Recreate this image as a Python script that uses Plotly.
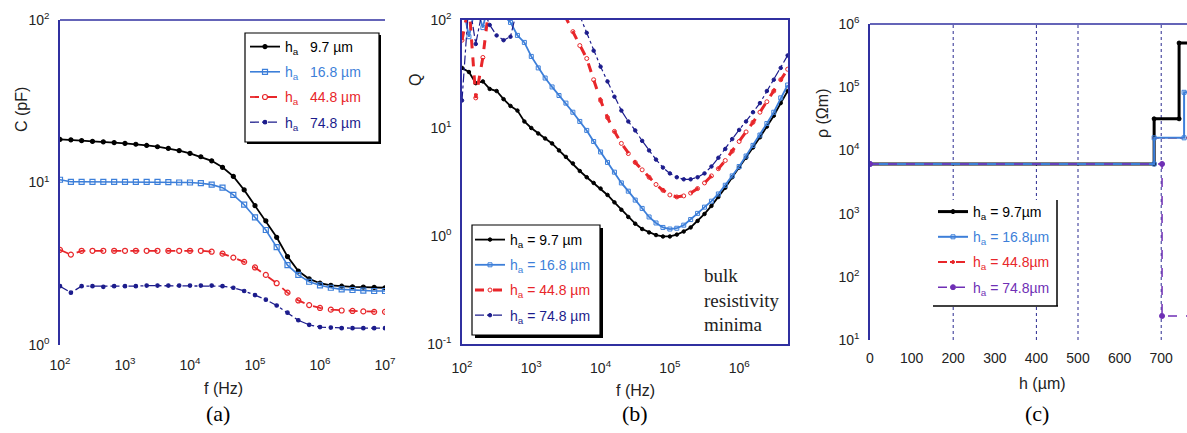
import numpy as np
import plotly.graph_objects as go

W, H = 1187, 433

# ---------------- data (a) : C (pF) vs f (Hz) ----------------
f_a = [100, 147, 215, 316, 464, 681, 1000, 1468, 2154, 3162, 4642, 6813, 10000, 14678,
       21544, 31623, 46416, 68129, 100000, 146780, 215443, 316228, 464159, 681292,
       1000000, 1467799, 2154435, 3162278, 4641589, 6812921, 10000000]
C_97 = [18.4, 18.3, 18.1, 17.9, 17.8, 17.6, 17.4, 17.2, 16.9, 16.6, 16.2, 15.7, 15.1, 14.4,
        13.6, 12.4, 10.9, 9.0, 7.2, 5.8, 4.6, 3.5, 2.85, 2.55, 2.4, 2.33, 2.3, 2.28, 2.27, 2.26, 2.25]
C_168 = [10.4, 10.1, 10.1, 10.1, 10.1, 10.1, 10.1, 10.1, 10.1, 10.1, 10.05, 10.0, 10.0, 9.9,
         9.7, 9.3, 8.4, 7.3, 6.1, 5.1, 4.0, 3.1, 2.7, 2.45, 2.33, 2.25, 2.2, 2.18, 2.16, 2.15, 2.15]
C_448 = [3.85, 3.6, 3.8, 3.8, 3.8, 3.8, 3.8, 3.8, 3.8, 3.8, 3.8, 3.8, 3.8, 3.8,
         3.75, 3.65, 3.45, 3.25, 3.0, 2.7, 2.4, 2.1, 1.88, 1.76, 1.69, 1.65, 1.63, 1.62, 1.61, 1.6, 1.6]
C_748 = [2.3, 2.1, 2.3, 2.3, 2.28, 2.3, 2.3, 2.3, 2.32, 2.32, 2.32, 2.32, 2.32, 2.32,
         2.32, 2.3, 2.25, 2.15, 2.03, 1.9, 1.75, 1.58, 1.42, 1.33, 1.29, 1.28, 1.27, 1.27, 1.27, 1.27, 1.27]

# ---------------- data (b) : Q vs f (Hz) ----------------
f_b = [100, 126, 158, 200, 251, 316, 398, 501, 631, 794, 1000, 1259, 1585, 1995, 2512, 3162,
       3981, 5012, 6310, 7943, 10000, 12589, 15849, 19953, 25119, 31623, 39811, 50119, 63096,
       79433, 100000, 125893, 158489, 199526, 251189, 316228, 398107, 501187, 630957, 794328,
       1000000, 1258925, 1584893, 1995262, 2511886, 3162278, 3981072, 5011872]
Q_97 = [36, 33, 26, 27, 23, 22, 18.5, 16, 14.5, 11.5, 10, 8.9, 8.0, 7.2, 6.2, 5.4, 4.7, 4.0,
        3.5, 3.1, 2.75, 2.4, 2.05, 1.75, 1.5, 1.3, 1.16, 1.08, 1.02, 0.99, 0.99, 1.03, 1.1, 1.2,
        1.38, 1.6, 1.9, 2.3, 2.8, 3.5, 4.3, 5.3, 6.6, 8.2, 10.3, 13, 17, 22]
Q_168 = [150, 70, 140, 85, 160, 120, 110, 95, 72, 62, 46, 36, 29, 24, 20, 17, 14, 11.5, 9.5,
         7.5, 6.0, 4.8, 3.9, 3.1, 2.6, 2.15, 1.8, 1.5, 1.32, 1.2, 1.16, 1.18, 1.26, 1.42, 1.62,
         1.85, 2.1, 2.45, 2.95, 3.6, 4.4, 5.5, 6.9, 8.6, 11, 14, 19, 25]
Q_448 = [65, 140, 19, 45, 150, 120, 200, 150, 180, 200, 250, 300, 250, 200, 150, 105, 78, 58,
         44, 28, 18, 12.5, 9.3, 7.2, 5.8, 4.8, 4.1, 3.5, 3.0, 2.65, 2.4, 2.3, 2.35, 2.5, 2.75,
         3.1, 3.6, 4.2, 5.0, 6.1, 7.5, 9.2, 11.3, 14, 17.5, 22, 28, 35]
Q_748 = [18, 150, 60, 130, 90, 72, 65, 70, 130, 200, 300, 350, 350, 300, 250, 200, 150, 110,
         76, 52, 37, 27, 19.5, 14.5, 11.5, 9.5, 7.6, 6.2, 5.1, 4.3, 3.8, 3.5, 3.35, 3.35, 3.5,
         3.8, 4.4, 5.3, 6.4, 7.9, 9.6, 11.5, 14, 17, 22, 28, 36, 47]

# ---------------- data (c) : rho (Ohm m) vs h (um) ----------------
h_97 = [0, 683, 683, 743, 743, 800]
rho_97 = [6100, 6100, 31600, 31600, 500000, 500000]
h_168 = [0, 683, 683, 755, 755, 800]
rho_168 = [6100, 6100, 15800, 15800, 83000, 83000]
h_448 = [0, 683, 683, 800]
rho_448 = [6100, 6100, 15800, 15800]
h_748 = [0, 702, 702, 800]
rho_748 = [6100, 6100, 24, 24]

labels_a = ["9.7 µm", "16.8 µm", "44.8 µm", "74.8 µm"]
labels_bc = ["9.7 µm", "16.8 µm", "44.8 µm", "74.8 µm"]

# tick labels
ftick_a = [1e2, 1e3, 1e4, 1e5, 1e6, 1e7]
ftext_a = ["10<sup>2</sup>", "10<sup>3</sup>", "10<sup>4</sup>", "10<sup>5</sup>", "10<sup>6</sup>", "10<sup>7</sup>"]
ctick = [1, 10, 100]
ctext = ["10<sup>0</sup>", "10<sup>1</sup>", "10<sup>2</sup>"]
ftick_b = [1e2, 1e3, 1e4, 1e5, 1e6]
ftext_b = ["10<sup>2</sup>", "10<sup>3</sup>", "10<sup>4</sup>", "10<sup>5</sup>", "10<sup>6</sup>"]
qtick = [0.1, 1, 10, 100]
qtext = ["10<sup>-1</sup>", "10<sup>0</sup>", "10<sup>1</sup>", "10<sup>2</sup>"]
htick = [0, 100, 200, 300, 400, 500, 600, 700]
rtick = [1e1, 1e2, 1e3, 1e4, 1e5, 1e6]
rtext = ["10<sup>1</sup>", "10<sup>2</sup>", "10<sup>3</sup>", "10<sup>4</sup>", "10<sup>5</sup>", "10<sup>6</sup>"]

# gridlines
grid_a_f = [1e5, 1e6]
grid_b_f = [1e3, 1e4, 1e5, 1e6]
grid_c_h = [200, 400, 500, 700]
grid_c_r = [1e2, 1e4, 1e5]

# ellipse in (b)
ellipse_f = [4.7e4, 3.5e5]
ellipse_q = [0.334, 12.4]

BLACK = "#000000"
BLUE = "#3d7fd9"
RED = "#e8262a"
NAVY = "#1c1c8c"
PURPLE = "#6f2fb5"
AXC = "#3030a0"
GRIDC = "#2a2a90"
TXT = "#222222"
FONT = "Liberation Sans"
SERIF = "Liberation Serif"


def px(x):
    return x / W


def py(y):
    return 1 - y / H


def cs(color, text):
    return f'<span style="color:{color}">{text}</span>'


fig = go.Figure()

# ---- (a)
styles_a = [
    (C_97, BLACK, "solid", "circle", 4, 1.8),
    (C_168, BLUE, "solid", "square-open", 5, 1.6),
    (C_448, RED, "dash", "circle-open", 5, 1.8),
    (C_748, NAVY, "dashdot", "circle", 3.5, 1.3),
]
for i, (vals, col, dash, sym, ms, lw) in enumerate(styles_a):
    fig.add_trace(go.Scatter(
        x=f_a, y=vals, mode="lines+markers", xaxis="x", yaxis="y",
        line=dict(color=col, dash=dash, width=lw),
        marker=dict(symbol=sym, size=ms, color=col, line=dict(color=col, width=1.2)),
        name=cs(BLACK if i == 0 else col, "h<sub>a</sub>") + "   " + cs(col, labels_a[i]),
        legend="legend", legendgroup=f"a{i}", legendrank=i, showlegend=True))

# ---- (b)
styles_b = [
    (Q_97, BLACK, "solid", "circle", 3.5, 1.8),
    (Q_168, BLUE, "solid", "square-open", 4, 1.8),
    (Q_448, RED, "dash", "circle-open", 4, 3),
    (Q_748, NAVY, "dashdot", "circle", 3.5, 1.2),
]
for i, (vals, col, dash, sym, ms, lw) in enumerate(styles_b):
    fig.add_trace(go.Scatter(
        x=f_b, y=vals, mode="lines+markers", xaxis="x2", yaxis="y2",
        line=dict(color=col, dash=dash, width=lw),
        marker=dict(symbol=sym, size=ms, color=col, line=dict(color=col, width=1)),
        name=cs(col, "h<sub>a</sub> = " + labels_bc[i]),
        legend="legend2", legendgroup=f"b{i}", legendrank=i, showlegend=True))

# ---- (c)  (red drawn first so it sits under the blue steps)
styles_c = [
    (2, h_448, rho_448, RED, "dashdot", "circle", 3, 1.8),
    (0, h_97, rho_97, BLACK, "solid", "circle", 4, 3),
    (1, h_168, rho_168, BLUE, "solid", "square-open", 4, 2),
    (3, h_748, rho_748, PURPLE, "dash", "circle", 5, 1.5),
]
for i, hx, vals, col, dash, sym, ms, lw in styles_c:
    fig.add_trace(go.Scatter(
        x=hx, y=vals, mode="lines+markers", xaxis="x3", yaxis="y3",
        line=dict(color=col, dash=dash, width=lw),
        marker=dict(symbol=sym, size=ms, color=col, line=dict(color=col, width=1)),
        name=cs(col, "h<sub>a</sub> = " + labels_bc[i].replace(" ", "")),
        legend="legend3", legendgroup=f"c{i}", legendrank=i, showlegend=True))

tickfont = dict(family=FONT, size=14, color=TXT)
common = dict(showgrid=False, zeroline=False, ticks="", tickfont=tickfont, automargin=False)

fig.update_layout(
    template="none",
    width=W, height=H, margin=dict(l=0, r=0, t=0, b=0, pad=0), autosize=False,
    paper_bgcolor="white", plot_bgcolor="white",
    xaxis=dict(type="log", range=[2, 7], domain=[px(60), px(385)], anchor="y",
               tickvals=ftick_a, ticktext=ftext_a, showline=False, ticklabelstandoff=10, **common),
    yaxis=dict(type="log", range=[0, 2], domain=[py(345), py(20)], anchor="x",
               tickvals=ctick, ticktext=ctext, showline=True, linecolor=AXC, linewidth=1.5,
               ticklabelstandoff=6, **common),
    xaxis2=dict(type="log", range=[2, 6.705], domain=[px(462), px(788)], anchor="y2",
                tickvals=ftick_b, ticktext=ftext_b, showline=True, mirror=True,
                linecolor=AXC, linewidth=1.5, ticklabelstandoff=10, **common),
    yaxis2=dict(type="log", range=[-1, 2], domain=[py(344), py(20)], anchor="x2",
                tickvals=qtick, ticktext=qtext, showline=True, mirror=True,
                linecolor=AXC, linewidth=1.5, ticklabelstandoff=6, **common),
    xaxis3=dict(type="linear", range=[0, 762], domain=[px(870), 1.0], anchor="y3",
                tickvals=htick, showline=False, ticklabelstandoff=8, **common),
    yaxis3=dict(type="log", range=[1, 6], domain=[py(340), py(24)], anchor="x3",
                tickvals=rtick, ticktext=rtext, showline=True, linecolor=AXC, linewidth=1.5,
                ticklabelstandoff=6, **common),
)

shapes = []
# top lines for (a) and (c)
shapes.append(dict(type="line", xref="x domain", yref="y domain", x0=0, x1=1, y0=1, y1=1,
                   line=dict(color=AXC, width=1.5)))
shapes.append(dict(type="line", xref="x3 domain", yref="y3 domain", x0=0, x1=1, y0=1, y1=1,
                   line=dict(color=AXC, width=1.5)))
# gridlines
for g in grid_a_f:
    shapes.append(dict(type="line", xref="x", yref="y domain", x0=np.log10(g), x1=np.log10(g),
                       y0=0, y1=1, layer="below", line=dict(color=GRIDC, width=1, dash="dot")))
for g in grid_b_f:
    shapes.append(dict(type="line", xref="x2", yref="y2 domain", x0=np.log10(g), x1=np.log10(g),
                       y0=0, y1=1, layer="below", line=dict(color=GRIDC, width=1, dash="dot")))
for g in grid_c_h:
    shapes.append(dict(type="line", xref="x3", yref="y3 domain", x0=g, x1=g,
                       y0=0, y1=1, layer="below", line=dict(color=GRIDC, width=1, dash="dot")))
for g in grid_c_r:
    shapes.append(dict(type="line", xref="x3 domain", yref="y3", x0=0, x1=1,
                       y0=np.log10(g), y1=np.log10(g), layer="below",
                       line=dict(color=GRIDC, width=1, dash="dot")))
# ellipse in (b)
shapes.append(dict(type="circle", xref="x2", yref="y2",
                   x0=np.log10(ellipse_f[0]), x1=np.log10(ellipse_f[1]),
                   y0=np.log10(ellipse_q[0]), y1=np.log10(ellipse_q[1]),
                   line=dict(color=BLACK, width=2.5)))


def legend_box(x0, y0, x1, y1, shadow=3, border=True):
    if shadow:
        shapes.append(dict(type="rect", xref="paper", yref="paper", layer="above",
                           x0=px(x0 + shadow), x1=px(x1 + shadow), y0=py(y1 + shadow), y1=py(y0 + shadow),
                           fillcolor=BLACK, line=dict(width=0)))
    shapes.append(dict(type="rect", xref="paper", yref="paper", layer="above",
                       x0=px(x0), x1=px(x1), y0=py(y1), y1=py(y0), fillcolor="white",
                       line=dict(color=BLACK if border else "white", width=1.2 if border else 0)))


legend_box(245, 33, 379, 142, shadow=2)
legend_box(472, 225, 600, 335, shadow=3)
legend_box(933, 200, 1057, 306, shadow=0, border=False)
shapes.append(dict(type="line", xref="paper", yref="paper", layer="above",
                   x0=px(933), x1=px(1058), y0=py(306), y1=py(306), line=dict(color=BLACK, width=1.5)))
shapes.append(dict(type="line", xref="paper", yref="paper", layer="above",
                   x0=px(1057), x1=px(1057), y0=py(306), y1=py(200), line=dict(color=BLACK, width=1.5)))
fig.update_layout(shapes=shapes)

legfont = dict(family=FONT, size=14, color=TXT)
leg_common = dict(bgcolor="rgba(0,0,0,0)", borderwidth=0, font=legfont, itemwidth=30,
                  xanchor="left", yanchor="top", tracegroupgap=4, traceorder="grouped")
fig.update_layout(
    legend=dict(x=px(245), y=py(31), **leg_common),
    legend2=dict(x=px(470), y=py(224), **leg_common),
    legend3=dict(x=px(933), y=py(196), **leg_common),
)

anns = []
titlefont = dict(family=FONT, size=16, color=TXT)


def ann(text, x, y, font, angle=0, xa="center", ya="middle", align="center"):
    anns.append(dict(text=text, x=px(x), y=py(y), xref="paper", yref="paper", textangle=angle,
                     xanchor=xa, yanchor=ya, align=align, showarrow=False, font=font))


ann("C (pF)", 22, 110, titlefont, -90)
ann("f (Hz)", 223, 388, titlefont)
ann("Q", 415, 80, titlefont, -90)
ann("f (Hz)", 635, 390, titlefont)
ann("ρ (Ωm)", 822, 113, titlefont, -90)
ann("h (µm)", 1042, 383, titlefont)
capfont = dict(family=SERIF, size=22, color=BLACK)
for t, xx in (("(a)", 218), ("(b)", 635), ("(c)", 1037)):
    ann(t, xx, 413, capfont)
ann("bulk<br>resistivity<br>minima", 702, 300, dict(family=SERIF, size=19, color="#222222"),
    xa="left", align="left")
fig.update_layout(annotations=anns)

fig.write_html("out.html", config={"displayModeBar": False},
               post_script="document.body.style.margin='0';document.body.style.overflow='hidden';")
